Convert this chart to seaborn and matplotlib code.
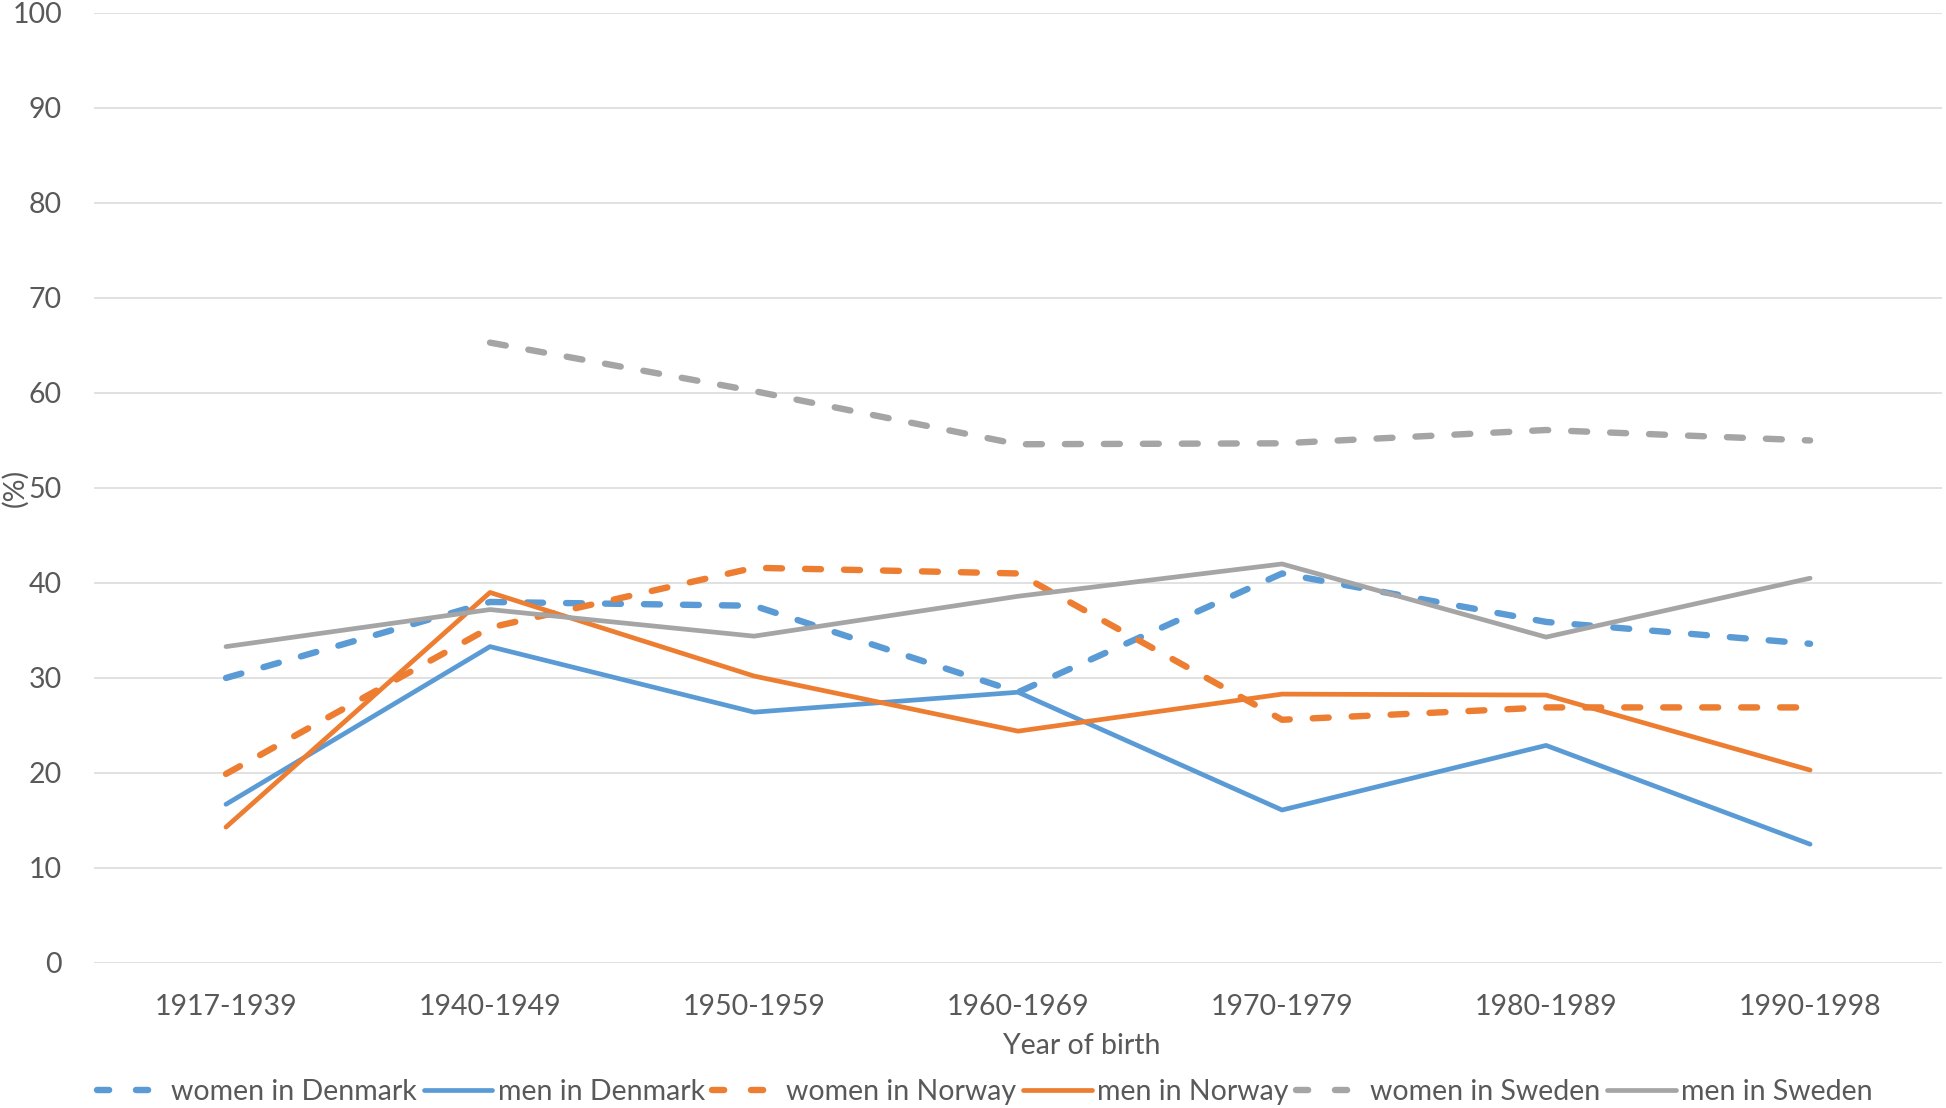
import numpy as np
import pandas as pd
import matplotlib
matplotlib.use("Agg")
import matplotlib.pyplot as plt
import seaborn as sns
from matplotlib.lines import Line2D

categories = ["1917-1939", "1940-1949", "1950-1959", "1960-1969",
              "1970-1979", "1980-1989", "1990-1998"]
women_denmark = [30.0, 38.0, 37.6, 28.5, 41.0, 35.9, 33.6]
men_denmark = [16.7, 33.3, 26.4, 28.5, 16.1, 22.9, 12.5]
women_norway = [19.9, 35.3, 41.6, 41.0, 25.6, 26.9, 26.9]
men_norway = [14.3, 39.0, 30.2, 24.4, 28.3, 28.2, 20.3]
women_sweden = [np.nan, 65.3, 60.2, 54.6, 54.7, 56.1, 55.0]
men_sweden = [33.3, 37.2, 34.4, 38.6, 42.0, 34.3, 40.5]
yticks = [0, 10, 20, 30, 40, 50, 60, 70, 80, 90, 100]

series_names = ["women in Denmark", "men in Denmark", "women in Norway",
                "men in Norway", "women in Sweden", "men in Sweden"]
series_values = [women_denmark, men_denmark, women_norway,
                 men_norway, women_sweden, men_sweden]

BLUE, ORANGE, GREY = "#5B9BD5", "#ED7D31", "#A5A5A5"
colors = [BLUE, BLUE, ORANGE, ORANGE, GREY, GREY]
dashed = [True, False, True, False, True, False]
TEXT = "#595959"

sns.set_theme(style="white")
plt.rcParams["font.family"] = ["Lato", "DejaVu Sans"]

fig = plt.figure(figsize=(19.46, 11.08), dpi=100)
ax = fig.add_axes([0.0483, 0.1309, 0.9497, 0.8574])

idx = np.arange(len(categories))
LW_SOLID = 3.4
LW_DASH = 4.6
DASH = (2.5, 3.6)
handles = []
for name, vals, c, d in zip(series_names, series_values, colors, dashed):
    df = pd.DataFrame({"x": idx, "y": vals}).dropna()
    sns.lineplot(data=df, x="x", y="y", ax=ax, color=c,
                 linewidth=LW_DASH if d else LW_SOLID,
                 sort=False, estimator=None)
    line = ax.get_lines()[-1]
    line.set_solid_joinstyle("round")
    if d:
        line.set_dashes(DASH)
        line.set_dash_capstyle("round")
        line.set_dash_joinstyle("round")
    h = Line2D([0], [0], color=c, linewidth=LW_DASH if d else LW_SOLID)
    if d:
        h.set_dashes((1.9, 4.2))
        h.set_dash_capstyle("round")
    else:
        h.set_solid_capstyle("round")
    handles.append(h)

ax.set_xlim(-0.5, len(categories) - 0.5)
ax.set_ylim(0, 100)
ax.set_yticks(yticks)
ax.set_xticks(idx)
ax.set_xticklabels(categories)
ax.grid(axis="y", color="#D9D9D9", linewidth=1.1)
ax.grid(axis="x", visible=False)
for s in ["top", "right", "left", "bottom"]:
    ax.spines[s].set_visible(False)
ax.tick_params(axis="both", length=0, labelsize=20.5, colors=TEXT)
ax.tick_params(axis="x", pad=22)
ax.tick_params(axis="y", pad=23)
ax.set_xlabel("")
ax.set_ylabel("")

fig.text(15 / 1946, 1 - 488 / 1108, "(%)", rotation=90, ha="center",
         va="center", fontsize=20.5, color=TEXT)
fig.text(1082 / 1946, 1 - 1046 / 1108, "Year of birth", ha="center",
         va="center", fontsize=20.5, color=TEXT)

leg = fig.legend(handles, series_names, loc="center",
                 bbox_to_anchor=(985 / 1946, 1 - 1092 / 1108), ncol=6,
                 frameon=False, fontsize=20.5, handlelength=2.4,
                 handletextpad=0.2, columnspacing=0.25,
                 borderpad=0, borderaxespad=0)
for t in leg.get_texts():
    t.set_color(TEXT)

fig.savefig("out.png", dpi=100)
